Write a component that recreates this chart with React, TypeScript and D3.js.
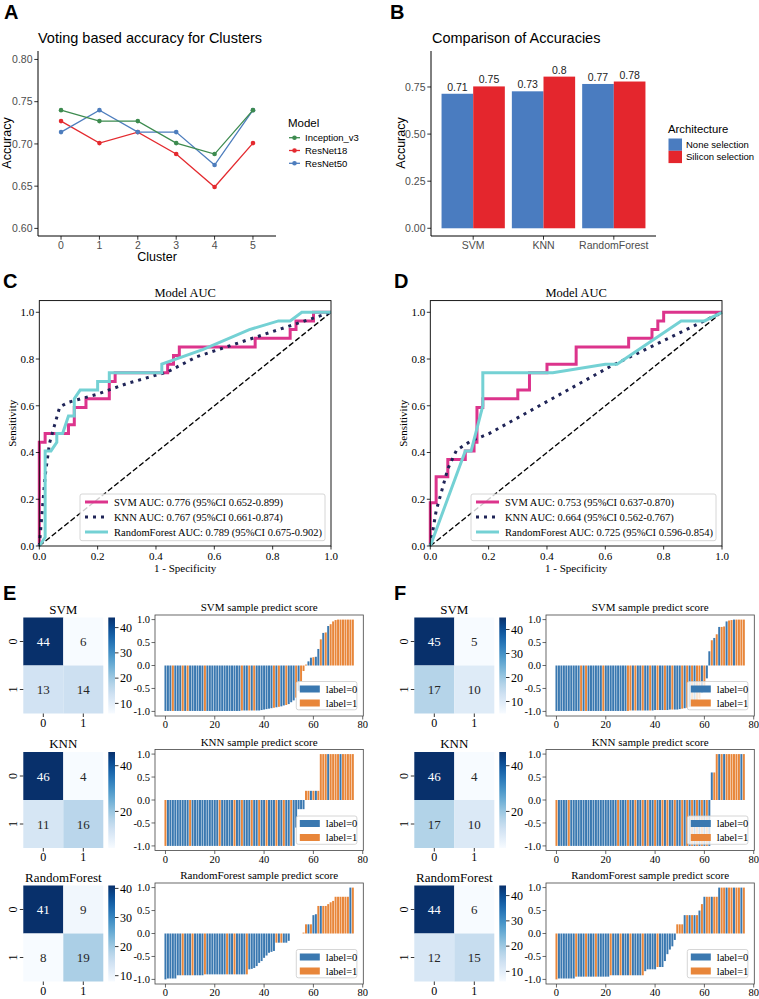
import React from "react";
import * as d3 from "d3";

const SANS = "'Liberation Sans', Arial, sans-serif";
const SERIF = "'Liberation Serif', 'Times New Roman', serif";

// ---------- panel A : voting accuracy per cluster ----------
const clusters = [0, 1, 2, 3, 4, 5];
const modelNames = ["Inception_v3", "ResNet18", "ResNet50"];
const accInception = [0.74, 0.727, 0.727, 0.701, 0.688, 0.74];
const accResNet18 = [0.727, 0.701, 0.714, 0.688, 0.649, 0.701];
const accResNet50 = [0.714, 0.74, 0.714, 0.714, 0.675, 0.74];
const modelColors = ["#3D8B4F", "#E42A2F", "#4D7DBD"];
const accTicks = [0.6, 0.65, 0.7, 0.75, 0.8];

// ---------- panel B : accuracy comparison ----------
const classifiers = ["SVM", "KNN", "RandomForest"];
const archNames = ["None selection", "Silicon selection"];
const accNone = [0.714, 0.727, 0.766];
const accSilicon = [0.753, 0.805, 0.779];
const labelNone = ["0.71", "0.73", "0.77"];
const labelSilicon = ["0.75", "0.8", "0.78"];
const archColors = ["#4A7CC0", "#E4262D"];
const barTicks = [0, 0.25, 0.5, 0.75];

// ---------- panels C / D : ROC curves [fpr, tpr] ----------
const rocSvmC = [[0, 0], [0, 0.444], [0.02, 0.444], [0.02, 0.481], [0.1, 0.481], [0.1, 0.519], [0.12, 0.519], [0.12, 0.593], [0.16, 0.593], [0.16, 0.63], [0.24, 0.63], [0.24, 0.704], [0.26, 0.704], [0.26, 0.741], [0.44, 0.741], [0.44, 0.778], [0.46, 0.778], [0.46, 0.815], [0.48, 0.815], [0.48, 0.852], [0.74, 0.852], [0.74, 0.889], [0.86, 0.889], [0.86, 0.926], [0.88, 0.926], [0.88, 0.963], [0.94, 0.963], [0.94, 1], [1, 1]];
const rocKnnC = [[0, 0], [0.01, 0.15], [0.02, 0.3], [0.035, 0.44], [0.07, 0.595], [0.1, 0.615], [0.2, 0.65], [0.3, 0.695], [0.44, 0.745], [0.54, 0.81], [1, 1]];
const rocRfC = [[0, 0], [0.02, 0.037], [0.02, 0.407], [0.04, 0.407], [0.06, 0.444], [0.06, 0.481], [0.08, 0.481], [0.1, 0.556], [0.12, 0.556], [0.12, 0.63], [0.14, 0.667], [0.2, 0.667], [0.2, 0.704], [0.24, 0.704], [0.24, 0.741], [0.42, 0.741], [0.42, 0.778], [0.56, 0.84], [0.72, 0.926], [0.82, 0.963], [0.86, 0.963], [0.9, 1], [1, 1]];
const rocSvmD = [[0, 0], [0, 0.185], [0.02, 0.185], [0.02, 0.296], [0.06, 0.296], [0.06, 0.37], [0.12, 0.37], [0.12, 0.407], [0.15, 0.407], [0.15, 0.444], [0.16, 0.444], [0.16, 0.593], [0.18, 0.593], [0.18, 0.63], [0.3, 0.63], [0.3, 0.667], [0.34, 0.667], [0.34, 0.741], [0.4, 0.741], [0.4, 0.778], [0.5, 0.778], [0.5, 0.852], [0.68, 0.852], [0.68, 0.889], [0.76, 0.889], [0.76, 0.926], [0.78, 0.926], [0.78, 0.963], [0.8, 0.963], [0.8, 1], [1, 1]];
const rocKnnD = [[0, 0], [0.02, 0.15], [0.06, 0.33], [0.09, 0.41], [0.14, 0.45], [0.2, 0.48], [0.62, 0.77], [1, 1]];
const rocRfD = [[0, 0], [0.12, 0.407], [0.14, 0.407], [0.18, 0.6], [0.18, 0.741], [0.42, 0.741], [0.6, 0.778], [0.64, 0.778], [0.86, 0.963], [0.94, 0.963], [1, 1]];
const legendC = ["SVM AUC: 0.776 (95%CI 0.652-0.899)", "KNN AUC: 0.767 (95%CI 0.661-0.874)", "RandomForest AUC: 0.789 (95%CI 0.675-0.902)"];
const legendD = ["SVM AUC: 0.753 (95%CI 0.637-0.870)", "KNN AUC: 0.664 (95%CI 0.562-0.767)", "RandomForest AUC: 0.725 (95%CI 0.596-0.854)"];
const rocTicks = [0, 0.2, 0.4, 0.6, 0.8, 1.0];

// ---------- panels E / F : confusion matrices ----------
const cmSvmE = [[44, 6], [13, 14]];
const cmKnnE = [[46, 4], [11, 16]];
const cmRfE = [[41, 9], [8, 19]];
const cmSvmF = [[45, 5], [17, 10]];
const cmKnnF = [[46, 4], [17, 10]];
const cmRfF = [[44, 6], [12, 15]];
const cbTicksFull = [10, 20, 30, 40];
const cbTicksKnn = [20, 40];

// ---------- panels E / F : sorted predict scores ----------
const scoreSvmE = [
  -0.99, -0.99, -0.99, -0.99, -0.99, -0.99, -0.99, -0.99, -0.99, -0.99,
  -0.99, -0.99, -0.99, -0.99, -0.99, -0.99, -0.99, -0.99, -0.99, -0.99,
  -0.99, -0.99, -0.99, -0.99, -0.99, -0.99, -0.99, -0.99, -0.99, -0.99,
  -0.99, -0.98, -0.98, -0.98, -0.98, -0.98, -0.98, -0.98, -0.98, -0.97,
  -0.96, -0.95, -0.94, -0.93, -0.92, -0.91, -0.9, -0.89, -0.87, -0.86,
  -0.84, -0.8, -0.76, -0.7, -0.55, -0.35, -0.12, 0.02, 0.09, 0.17,
  0.18, 0.19, 0.36, 0.57, 0.71, 0.72, 0.86, 0.9, 0.96, 0.99,
  1, 1, 1, 1, 1, 1, 1,
];
const scoreKnnE = [
  -1, -1, -1, -1, -1, -1, -1, -1, -1, -1,
  -1, -1, -1, -1, -1, -1, -1, -1, -1, -1,
  -1, -1, -1, -1, -1, -1, -1, -1, -1, -1,
  -1, -1, -1, -1, -1, -1, -1, -1, -1, -1,
  -1, -1, -1, -1, -1, -1, -1, -1, -1, -1,
  -1, -1, -1, -0.6, -0.2, -0.2, -0.2, 0.2, 0.2, 0.2,
  0.2, 0.2, 0.2, 1, 1, 1, 1, 1, 1, 1,
  1, 1, 1, 1, 1, 1, 1,
];
const scoreRfE = [
  -1, -0.98, -0.98, -0.98, -0.98, -0.91, -0.91, -0.91, -0.91, -0.91,
  -0.91, -0.91, -0.91, -0.91, -0.91, -0.91, -0.89, -0.89, -0.89, -0.89,
  -0.89, -0.89, -0.89, -0.89, -0.89, -0.89, -0.89, -0.89, -0.89, -0.89,
  -0.89, -0.89, -0.89, -0.89, -0.78, -0.77, -0.75, -0.71, -0.64, -0.6,
  -0.53, -0.48, -0.42, -0.4, -0.38, -0.2, -0.2, -0.2, -0.2, -0.2,
  -0.16, 0, 0, 0, 0, 0, 0.02, 0.2, 0.2, 0.2,
  0.4, 0.42, 0.6, 0.6, 0.6, 0.6, 0.64, 0.68, 0.71, 0.8,
  0.8, 0.8, 0.8, 0.8, 0.8, 1, 1,
];
const scoreSvmF = [
  -0.99, -0.99, -0.99, -0.99, -0.99, -0.99, -0.99, -0.99, -0.99, -0.99,
  -0.99, -0.99, -0.99, -0.99, -0.99, -0.99, -0.99, -0.99, -0.99, -0.99,
  -0.99, -0.99, -0.99, -0.99, -0.99, -0.99, -0.99, -0.99, -0.99, -0.99,
  -0.98, -0.98, -0.98, -0.98, -0.98, -0.98, -0.98, -0.98, -0.98, -0.98,
  -0.97, -0.97, -0.97, -0.97, -0.97, -0.97, -0.96, -0.96, -0.96, -0.96,
  -0.95, -0.94, -0.93, -0.92, -0.9, -0.88, -0.85, -0.8, -0.72, -0.6,
  -0.45, -0.28, 0.31, 0.55, 0.6, 0.68, 0.84, 0.84, 0.85, 0.96,
  0.98, 0.99, 1, 1, 1, 1, 1,
];
const scoreKnnF = [
  -1, -1, -1, -1, -1, -1, -1, -1, -1, -1,
  -1, -1, -1, -1, -1, -1, -1, -1, -1, -1,
  -1, -1, -1, -1, -1, -1, -1, -1, -1, -1,
  -1, -1, -1, -1, -1, -1, -1, -1, -1, -1,
  -1, -1, -1, -1, -1, -1, -1, -1, -1, -1,
  -1, -1, -1, -1, -1, -1, -1, -1, -1, -1,
  -1, -1, -1, 0.6, 0.6, 1, 1, 1, 1, 1,
  1, 1, 1, 1, 1, 1, 1,
];
const scoreRfF = [
  -1, -0.98, -0.98, -0.98, -0.98, -0.98, -0.98, -0.98, -0.94, -0.94,
  -0.94, -0.94, -0.94, -0.94, -0.94, -0.94, -0.94, -0.94, -0.94, -0.94,
  -0.94, -0.94, -0.91, -0.91, -0.91, -0.91, -0.91, -0.91, -0.91, -0.91,
  -0.91, -0.91, -0.91, -0.91, -0.91, -0.91, -0.82, -0.78, -0.78, -0.78,
  -0.78, -0.73, -0.73, -0.73, -0.6, -0.45, -0.35, -0.28, -0.14, 0.2,
  0.2, 0.2, 0.4, 0.4, 0.4, 0.4, 0.4, 0.4, 0.5, 0.64,
  0.8, 0.8, 0.8, 0.8, 0.8, 0.8, 1, 1, 1, 1,
  1, 1, 1, 1, 1, 1, 1,
];
// true labels of the sorted samples ("0" = label 0, "1" = label 1)
const labSvmE = ["0001000101", "0000001000", "0000000000", "0100101000", "0000101001", "0001011100", "1001010111", "1111111"].join("");
const labKnnE = ["1000000000", "1000000000", "0010000010", "0100010010", "0100010010", "0100000110", "1011110111", "1011111"].join("");
const labRfE = ["0000000100", "0100001000", "0000010010", "0001000000", "0000010100", "0101011101", "0010111111", "1111101"].join("");
const labSvmF = ["0000000000", "1010000001", "0000000001", "1010010010", "0100100100", "0101010110", "1001010110", "1101111"].join("");
const labKnnF = ["1000010000", "0000000000", "0000010001", "0010010100", "1001010010", "0101010101", "0100110101", "1111101"].join("");
const labRfF = ["1000000010", "0010001000", "0010001000", "1000010000", "0100000001", "1101010101", "0110110110", "1101101"].join("");

const rocColors = { svm: "#DC348C", knn: "#1F2457", rf: "#74D1D4" };
const labelColors = ["#3A78B0", "#E8863A"];

function PanelA() {
  const x = d3.scaleLinear().domain([-0.6, 5.6]).range([38, 276]);
  const y = d3.scaleLinear().domain([0.591, 0.81]).range([236, 51]);
  const series = [accInception, accResNet18, accResNet50];
  const order = [1, 2, 0];
  const line = d3.line<number>().x((_, i) => x(clusters[i])).y((d) => y(d));
  return (
    <g fontFamily={SANS}>
      <text x={4} y={19} fontSize={20} fontWeight="bold">A</text>
      <text x={38} y={43} fontSize={14.5}>Voting based accuracy for Clusters</text>
      {accTicks.map((t) => (
        <g key={t}>
          <line x1={34.3} x2={38} y1={y(t)} y2={y(t)} stroke="#333" />
          <text x={32.5} y={y(t)} dy="0.35em" textAnchor="end" fontSize={10.5} fill="#4d4d4d">{t.toFixed(2)}</text>
        </g>
      ))}
      {clusters.map((c) => (
        <g key={c}>
          <line x1={x(c)} x2={x(c)} y1={236} y2={239.7} stroke="#333" />
          <text x={x(c)} y={249} textAnchor="middle" fontSize={10.5} fill="#4d4d4d">{c}</text>
        </g>
      ))}
      <line x1={38} x2={276} y1={236} y2={236} stroke="#000" strokeWidth={1} />
      <line x1={38} x2={38} y1={51} y2={236} stroke="#000" strokeWidth={1} />
      {order.map((k) => (
        <g key={k}>
          <path d={line(series[k]) || ""} fill="none" stroke={modelColors[k]} strokeWidth={1.3} />
          {series[k].map((v, i) => (
            <circle key={i} cx={x(clusters[i])} cy={y(v)} r={2.3} fill={modelColors[k]} />
          ))}
        </g>
      ))}
      <text x={157} y={261} textAnchor="middle" fontSize={12.5}>Cluster</text>
      <text transform="translate(11,143) rotate(-90)" textAnchor="middle" fontSize={12.5}>Accuracy</text>
      <text x={288} y={127} fontSize={11.5}>Model</text>
      {modelNames.map((m, k) => {
        const cy = 137.7 + k * 12.8;
        return (
          <g key={m}>
            <line x1={289} x2={300} y1={cy} y2={cy} stroke={modelColors[k]} strokeWidth={1.3} />
            <circle cx={294.5} cy={cy} r={2.3} fill={modelColors[k]} />
            <text x={305} y={cy} dy="0.35em" fontSize={9.5}>{m}</text>
          </g>
        );
      })}
    </g>
  );
}

function PanelB() {
  const x = d3.scalePoint<string>().domain(classifiers).range([431, 656]).padding(0.6);
  const step = x.step();
  const y = d3.scaleLinear().domain([-0.041, 0.941]).range([236, 51]);
  const bw = step * 0.45;
  const groups = [
    { vals: accNone, labs: labelNone, off: -bw },
    { vals: accSilicon, labs: labelSilicon, off: 0 },
  ];
  return (
    <g fontFamily={SANS}>
      <text x={390} y={19} fontSize={20} fontWeight="bold">B</text>
      <text x={432} y={43} fontSize={14.5}>Comparison of Accuracies</text>
      {groups.map((g, k) =>
        classifiers.map((c, i) => {
          const bx = (x(c) as number) + g.off;
          return (
            <g key={k + c}>
              <rect x={bx} width={bw} y={y(g.vals[i])} height={y(0) - y(g.vals[i])} fill={archColors[k]} />
              <text x={bx + bw / 2} y={y(g.vals[i]) - 3} textAnchor="middle" fontSize={10.5} fill="#222">{g.labs[i]}</text>
            </g>
          );
        })
      )}
      {barTicks.map((t) => (
        <g key={t}>
          <line x1={427.3} x2={431} y1={y(t)} y2={y(t)} stroke="#333" />
          <text x={425.5} y={y(t)} dy="0.35em" textAnchor="end" fontSize={10.5} fill="#4d4d4d">{t.toFixed(2)}</text>
        </g>
      ))}
      {classifiers.map((c) => (
        <g key={c}>
          <line x1={x(c)} x2={x(c)} y1={236} y2={239.7} stroke="#333" />
          <text x={x(c)} y={249} textAnchor="middle" fontSize={10.5} fill="#4d4d4d">{c}</text>
        </g>
      ))}
      <line x1={431} x2={656} y1={236} y2={236} stroke="#000" />
      <line x1={431} x2={431} y1={51} y2={236} stroke="#000" />
      <text transform="translate(405,143) rotate(-90)" textAnchor="middle" fontSize={12.5}>Accuracy</text>
      <text x={668} y={133} fontSize={11.3}>Architecture</text>
      {archNames.map((a, k) => (
        <g key={a}>
          <rect x={668.5} y={138.5 + k * 12.3} width={13.5} height={12.3} fill={archColors[k]} />
          <text x={686} y={144.7 + k * 12.3} dy="0.35em" fontSize={9.5}>{a}</text>
        </g>
      ))}
    </g>
  );
}

function RocPanel({ ox, letter, svm, knn, rf, texts }: any) {
  const x = d3.scaleLinear().domain([0, 1]).range([ox + 39.3, ox + 331]);
  const y = d3.scaleLinear().domain([0, 1.05]).range([546, 300.6]);
  const line = d3.line<number[]>().x((d) => x(d[0])).y((d) => y(d[1]));
  const left = x(0), right = x(1), top = y(1.05), bottom = y(0);
  const lw = 245, lh = 46.7;
  const lx = right - 6 - lw, ly = bottom - 5.3 - lh;
  const cx = (left + right) / 2;
  const styles = [
    { c: rocColors.svm, dash: undefined },
    { c: rocColors.knn, dash: "3 5" },
    { c: rocColors.rf, dash: undefined },
  ];
  return (
    <g fontFamily={SERIF}>
      <text x={ox + 3} y={288} fontSize={20} fontWeight="bold" fontFamily={SANS}>{letter}</text>
      <text x={cx} y={297} textAnchor="middle" fontSize={12.5}>Model AUC</text>
      <path d={line([[0, 0], [1, 1]]) || ""} stroke="#000" strokeWidth={1.4} strokeDasharray="5.5 2.5" fill="none" />
      <path d={line(svm) || ""} stroke={styles[0].c} strokeWidth={3} fill="none" />
      <path d={line(knn) || ""} stroke={styles[1].c} strokeWidth={3} strokeDasharray={styles[1].dash} fill="none" />
      <path d={line(rf) || ""} stroke={styles[2].c} strokeWidth={3} fill="none" />
      <rect x={left} y={top} width={right - left} height={bottom - top} fill="none" stroke="#000" strokeWidth={0.9} />
      {rocTicks.map((t) => (
        <g key={t}>
          <line x1={x(t)} x2={x(t)} y1={bottom} y2={bottom + 3.5} stroke="#000" strokeWidth={0.8} />
          <text x={x(t)} y={bottom + 14} textAnchor="middle" fontSize={11}>{t.toFixed(1)}</text>
          <line x1={left - 3.5} x2={left} y1={y(t)} y2={y(t)} stroke="#000" strokeWidth={0.8} />
          <text x={left - 5} y={y(t)} dy="0.35em" textAnchor="end" fontSize={11}>{t.toFixed(1)}</text>
        </g>
      ))}
      <text x={cx} y={bottom + 26} textAnchor="middle" fontSize={11}>1 - Specificity</text>
      <text transform={`translate(${ox + 16},${(top + bottom) / 2}) rotate(-90)`} textAnchor="middle" fontSize={11}>Sensitivity</text>
      <rect x={lx} y={ly} width={lw} height={lh} rx={2} fill="#fff" fillOpacity={0.8} stroke="#cccccc" strokeWidth={0.8} />
      {texts.map((t: string, k: number) => {
        const yy = ly + 8 + k * 15;
        return (
          <g key={t}>
            <line x1={lx + 5} x2={lx + 28} y1={yy} y2={yy} stroke={styles[k].c} strokeWidth={3} strokeDasharray={styles[k].dash} />
            <text x={lx + 34} y={yy} dy="0.35em" fontSize={10.5}>{t}</text>
          </g>
        );
      })}
    </g>
  );
}

function Heatmap({ x0, top, name, cm, ticks, gid }: any) {
  const cw = 40, ch = 48, h = ch * 2;
  const flat = cm.flat();
  const vmin = d3.min(flat) as number, vmax = d3.max(flat) as number;
  const color = (v: number) => d3.interpolateBlues((v - vmin) / (vmax - vmin));
  const cbx = x0 + 85, cbw = 6.7;
  const cy = d3.scaleLinear().domain([vmin, vmax]).range([top + h, top]);
  const stops = d3.range(0, 1.0001, 0.1);
  return (
    <g fontFamily={SERIF}>
      <defs>
        <linearGradient id={gid} x1="0" y1="1" x2="0" y2="0">
          {stops.map((s) => <stop key={s} offset={s} stopColor={d3.interpolateBlues(s)} />)}
        </linearGradient>
      </defs>
      <text x={x0 + cw} y={top - 4} textAnchor="middle" fontSize={13}>{name}</text>
      {cm.map((row: number[], r: number) =>
        row.map((v, c) => {
          const t = (v - vmin) / (vmax - vmin);
          return (
            <g key={r + "-" + c}>
              <rect x={x0 + c * cw} y={top + r * ch} width={cw} height={ch} fill={color(v)} />
              <text x={x0 + c * cw + cw / 2} y={top + r * ch + ch / 2} dy="0.35em" textAnchor="middle" fontSize={13} fill={t > 0.6 ? "#fff" : "#262626"}>{v}</text>
            </g>
          );
        })
      )}
      {[0, 1].map((k) => (
        <g key={k}>
          <line x1={x0 - 3.5} x2={x0} y1={top + k * ch + ch / 2} y2={top + k * ch + ch / 2} stroke="#000" strokeWidth={0.8} />
          <text transform={`translate(${x0 - 6},${top + k * ch + ch / 2}) rotate(-90)`} textAnchor="middle" fontSize={12}>{k}</text>
          <line x1={x0 + k * cw + cw / 2} x2={x0 + k * cw + cw / 2} y1={top + h} y2={top + h + 3.5} stroke="#000" strokeWidth={0.8} />
          <text x={x0 + k * cw + cw / 2} y={top + h + 13} textAnchor="middle" fontSize={12}>{k}</text>
        </g>
      ))}
      <rect x={cbx} y={top} width={cbw} height={h} fill={`url(#${gid})`} />
      {ticks.map((t: number) => (
        <g key={t}>
          <line x1={cbx + cbw} x2={cbx + cbw + 3.5} y1={cy(t)} y2={cy(t)} stroke="#000" strokeWidth={0.8} />
          <text x={cbx + cbw + 5} y={cy(t)} dy="0.35em" fontSize={12}>{t}</text>
        </g>
      ))}
    </g>
  );
}

function ScoreBars({ x0, top, name, scores, labels }: any) {
  const x1 = x0 + 208.3, h = 101;
  const xs = d3.scaleLinear().domain([-4.24, 80.24]).range([x0, x1]);
  const ys = d3.scaleLinear().domain([-1.1, 1.1]).range([top + h, top]);
  const lw = 60.6, lh = 28.3;
  const lx = x1 - 6.4 - lw, ly = top + h - 6.2 - lh;
  return (
    <g fontFamily={SERIF}>
      <text x={(x0 + x1) / 2} y={top - 4} textAnchor="middle" fontSize={11}>{name} sample predict score</text>
      {scores.map((v: number, i: number) => (
        <rect key={i} x={xs(i - 0.4)} width={xs(i + 0.4) - xs(i - 0.4)} y={Math.min(ys(v), ys(0))} height={Math.abs(ys(v) - ys(0))} fill={labelColors[+labels[i]]} />
      ))}
      <rect x={x0} y={top} width={x1 - x0} height={h} fill="none" stroke="#444" strokeWidth={0.8} />
      {[-1, -0.5, 0, 0.5, 1].map((t) => (
        <g key={t}>
          <line x1={x0 - 3.5} x2={x0} y1={ys(t)} y2={ys(t)} stroke="#444" strokeWidth={0.8} />
          <text x={x0 - 5} y={ys(t)} dy="0.35em" textAnchor="end" fontSize={10.5}>{t.toFixed(1)}</text>
        </g>
      ))}
      {[0, 20, 40, 60, 80].map((t) => (
        <g key={t}>
          <line x1={xs(t)} x2={xs(t)} y1={top + h} y2={top + h + 3.5} stroke="#444" strokeWidth={0.8} />
          <text x={xs(t)} y={top + h + 12} textAnchor="middle" fontSize={10.5}>{t}</text>
        </g>
      ))}
      <rect x={lx} y={ly} width={lw} height={lh} rx={2} fill="#fff" fillOpacity={0.8} stroke="#cccccc" strokeWidth={0.8} />
      {["label=0", "label=1"].map((l, k) => (
        <g key={l}>
          <rect x={lx + 3.5} y={ly + 4 + k * 14} width={20} height={7} fill={labelColors[k]} />
          <text x={lx + 29.5} y={ly + 7.5 + k * 14} dy="0.35em" fontSize={10.5}>{l}</text>
        </g>
      ))}
    </g>
  );
}

function ConfusionColumn({ ox, letter, rows, tag }: any) {
  const centers = [665.5, 800, 933.5];
  return (
    <g>
      <text x={ox + 3} y={600} fontSize={20} fontWeight="bold" fontFamily={SANS}>{letter}</text>
      {rows.map((r: any, i: number) => (
        <g key={r.name}>
          <Heatmap x0={ox + 23.3} top={centers[i] - 48} name={r.name} cm={r.cm} ticks={r.ticks} gid={`cb-${tag}-${i}`} />
          <ScoreBars x0={ox + 155} top={centers[i] - 50.5} name={r.name} scores={r.scores} labels={r.labels} />
        </g>
      ))}
    </g>
  );
}

export default function App() {
  const rowsE = [
    { name: "SVM", cm: cmSvmE, ticks: cbTicksFull, scores: scoreSvmE, labels: labSvmE },
    { name: "KNN", cm: cmKnnE, ticks: cbTicksKnn, scores: scoreKnnE, labels: labKnnE },
    { name: "RandomForest", cm: cmRfE, ticks: cbTicksFull, scores: scoreRfE, labels: labRfE },
  ];
  const rowsF = [
    { name: "SVM", cm: cmSvmF, ticks: cbTicksFull, scores: scoreSvmF, labels: labSvmF },
    { name: "KNN", cm: cmKnnF, ticks: cbTicksKnn, scores: scoreKnnF, labels: labKnnF },
    { name: "RandomForest", cm: cmRfF, ticks: cbTicksFull, scores: scoreRfF, labels: labRfF },
  ];
  return (
    <svg width={759} height={999} style={{ position: "absolute", left: 0, top: 0, background: "#fff" }}>
      <rect width={759} height={999} fill="#fff" />
      <PanelA />
      <PanelB />
      <RocPanel ox={0} letter="C" svm={rocSvmC} knn={rocKnnC} rf={rocRfC} texts={legendC} />
      <RocPanel ox={391} letter="D" svm={rocSvmD} knn={rocKnnD} rf={rocRfD} texts={legendD} />
      <ConfusionColumn ox={0} letter="E" rows={rowsE} tag="e" />
      <ConfusionColumn ox={391} letter="F" rows={rowsF} tag="f" />
    </svg>
  );
}
